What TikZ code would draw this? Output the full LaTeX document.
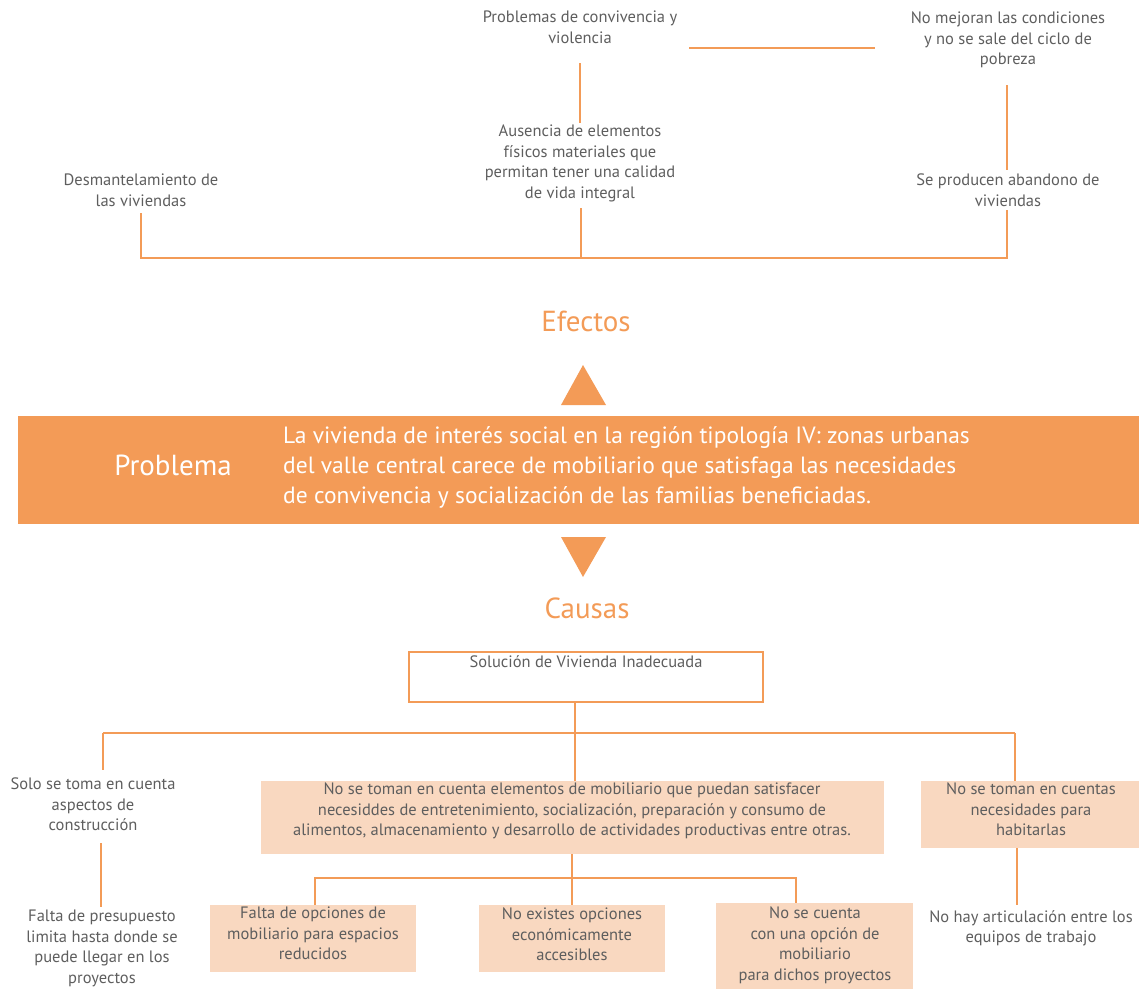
\documentclass[tikz,border=0pt]{standalone}
\usepackage{fontspec}
\setmainfont{PT Sans}
\definecolor{org}{HTML}{F39B57}
\definecolor{peach}{HTML}{F9D8C0}
\definecolor{txt}{HTML}{5E5E5E}
\begin{document}
\begin{tikzpicture}[x=1pt,y=-1pt,
  lbl/.style={text=txt, font=\fontsize{16.5}{20.5}\selectfont, align=center, inner sep=0pt, anchor=north, yshift=-2pt},
  conn/.style={draw=org, line width=2.4pt},
  pbox/.style={fill=peach, draw=none, inner sep=0pt},
  head/.style={text=org, font=\fontsize{29}{32}\selectfont, inner sep=0pt},
  tri/.style={fill=org}
]
\useasboundingbox (0,0) rectangle (1139,989);

% ---------- Efectos ----------
\node[lbl] (prob) at (580,9) {Problemas de convivencia y\\violencia};
\node[lbl] (nomej) at (1008,10) {No mejoran las condiciones\\y no se sale del ciclo de\\pobreza};
\node[lbl] (ausen) at (580,123) {Ausencia de elementos\\físicos materiales que\\permitan tener una calidad\\de vida integral};
\node[lbl] (desm) at (141,172) {Desmantelamiento de\\las viviendas};
\node[lbl] (seprod) at (1008,172) {Se producen abandono de\\viviendas};

\coordinate (h1a) at (689,48);
\coordinate (h1b) at (875,48);
\coordinate (v1a) at (580,63);
\coordinate (v1b) at (580,123);
\coordinate (v2a) at (1007,85);
\coordinate (v2b) at (1007,170);
\coordinate (dA) at (141,213);
\coordinate (aA) at (581,208);
\coordinate (sA) at (1007,210);
\coordinate (barL) at (141,258);
\coordinate (barM) at (581,258);
\coordinate (barR) at (1007,258);

\draw[conn] (h1a) -- (h1b);
\draw[conn] (v1a) -- (v1b);
\draw[conn] (v2a) -- (v2b);
\draw[conn] (dA) -- (barL) -- (barR) -- (sA);
\draw[conn] (aA) -- (barM);

\node[head] (efectos) at (586,321) {Efectos};
\fill[tri] (583,365) -- (606,405) -- (561,405) -- cycle;

% ---------- Problema ----------
\node[fill=org, inner sep=0pt, minimum width=1121pt, minimum height=108pt, anchor=north west] (band) at (18,416) {};
\node[text=white, font=\fontsize{29}{32}\selectfont, inner sep=0pt] (problema) at (173,465) {Problema};
\node[text=white, font=\fontsize{23.5}{30}\selectfont, align=left, inner sep=0pt, anchor=west] (ptext) at (283,467)
  {La vivienda de interés social en la región tipología IV: zonas urbanas\\del valle central carece de mobiliario que satisfaga las necesidades\\de convivencia y socialización de las familias beneficiadas.};

\fill[tri] (561,537) -- (606,537) -- (583,577) -- cycle;
\node[head] (causas) at (587,608) {Causas};

% ---------- Causas ----------
\node[draw=org, line width=1.5pt, inner sep=0pt, minimum width=354pt, minimum height=50pt] (sol) at (586,677) {};
\node[lbl, font=\fontsize{16.5}{18}\selectfont] (soltxt) at (586,653) {Solución de Vivienda Inadecuada};

\coordinate (cbL) at (103,733);
\coordinate (cbM) at (575,733);
\coordinate (cbR) at (1015,733);
\draw[conn] (cbL) -- (cbR);
\coordinate (solB) at (575,702);

\node[lbl] (solo) at (93,776) {Solo se toma en cuenta\\aspectos de\\construcción};
\node[lbl] (falta) at (102,908) {Falta de presupuesto\\limita hasta donde se\\puede llegar en los\\proyectos};

\node[pbox, minimum width=623pt, minimum height=73pt] (big) at (572.5,817.5) {};
\node[lbl] (bigtxt) at (572,781) {No se toman en cuenta elementos de mobiliario que puedan satisfacer\\necesiddes de entretenimiento, socialización, preparación y consumo de\\alimentos, almacenamiento y desarrollo de actividades productivas entre otras.};

\node[pbox, minimum width=218pt, minimum height=67pt] (rbox) at (1030,814.5) {};
\node[lbl] (rtxt) at (1031,781) {No se toman en cuentas\\necesidades para\\habitarlas};

\node[lbl] (nohay) at (1031,908) {No hay articulación entre los\\equipos de trabajo};

\node[pbox, minimum width=206pt, minimum height=67pt] (ba) at (313,938.5) {};
\node[lbl] (batxt) at (313,905) {Falta de opciones de\\mobiliario para espacios\\reducidos};
\node[pbox, minimum width=186pt, minimum height=67pt] (bb) at (572,938.5) {};
\node[lbl] (bbtxt) at (572,906) {No existes opciones\\económicamente\\accesibles};
\node[pbox, minimum width=197pt, minimum height=86pt] (bc) at (814.5,946) {};
\node[lbl] (bctxt) at (815,905) {No se cuenta\\con una opción de\\mobiliario\\para dichos proyectos};

% connectors
\draw[conn] (solB) -- (big.north -| solB);
\draw[conn] (cbL) -- (103,770);
\draw[conn] (101,843) -- (101,907);
\draw[conn] (cbR) -- (rbox.north -| cbR);
\draw[conn] (1017,848) -- (1017,905);

\coordinate (sbL) at (315,878);
\coordinate (sbR) at (796,878);
\draw[conn] (big.south) ++(-0.5,0) -- (bb.north);
\draw[conn] (ba.north -| sbL) -- (sbL) -- (sbR) -- (bc.north -| sbR);
\end{tikzpicture}
\end{document}
